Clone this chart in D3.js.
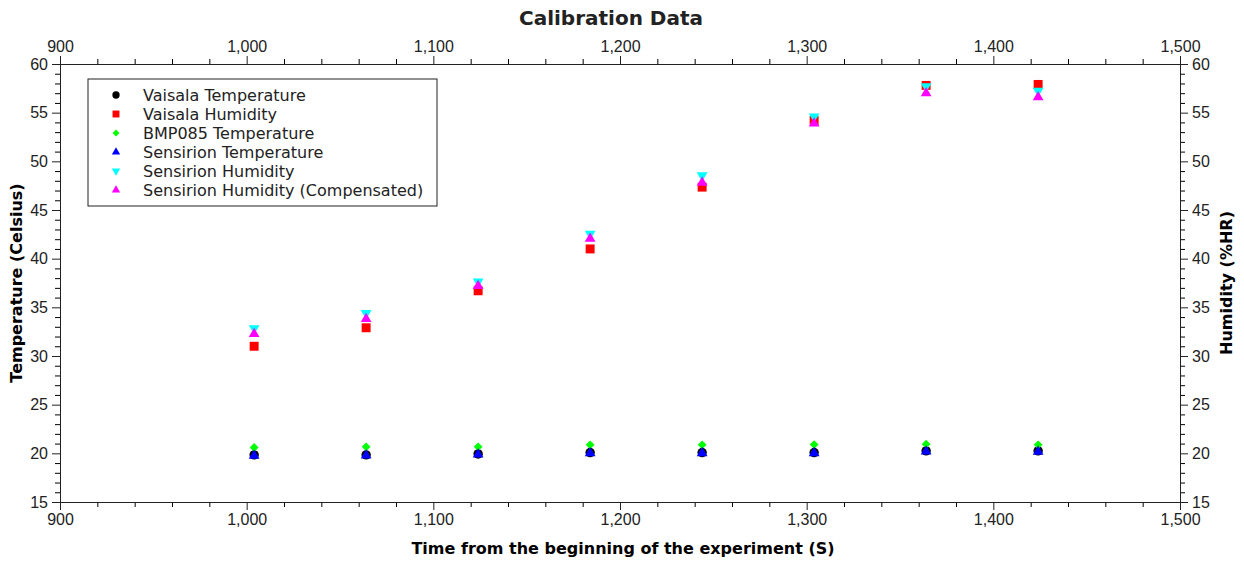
<!DOCTYPE html>
<meta charset="utf-8">
<script src="https://d3js.org/d3.v7.min.js"></script>
<title>Calibration Data</title>
<style>
    body { margin: 0; background: #fff; }
    svg { font-family: "DejaVu Sans", sans-serif; }
    .tick text { fill: #222; }
</style>
<div id="my_dataviz"></div>
<script>
    // data
    const times = [1004, 1064, 1124, 1184, 1244, 1304, 1364, 1424];
    const vaisalaTemp = [19.84, 19.84, 19.94, 20.08, 20.08, 20.08, 20.25, 20.25];
    const vaisalaHum = [31.0, 32.9, 36.7, 41.0, 47.35, 54.2, 57.8, 57.9];
    const bmpTemp = [20.6, 20.67, 20.67, 20.87, 20.87, 20.9, 20.94, 20.87];
    const sensTemp = [19.75, 19.78, 19.88, 20.02, 20.03, 20.03, 20.2, 20.18];
    const sensHum = [32.85, 34.4, 37.65, 42.55, 48.55, 54.6, 57.7, 57.25];
    const sensHumComp = [32.27, 33.8, 37.2, 42.05, 47.8, 53.9, 57.0, 56.6];

    const series = [
        {name: "Vaisala Temperature", values: vaisalaTemp, color: "#000000", shape: d3.symbolCircle, size: 70},
        {name: "Vaisala Humidity", values: vaisalaHum, color: "#ff0000", shape: d3.symbolSquare, size: 80},
        {name: "BMP085 Temperature", values: bmpTemp, color: "#00ff00", shape: d3.symbolDiamond2, size: 50},
        {name: "Sensirion Temperature", values: sensTemp, color: "#0000ff", shape: d3.symbolTriangle, size: 50},
        {name: "Sensirion Humidity", values: sensHum, color: "#00ffff", shape: d3.symbolTriangle, size: 50, flip: true},
        {name: "Sensirion Humidity (Compensated)", values: sensHumComp, color: "#ff00ff", shape: d3.symbolTriangle, size: 50}
    ];

    const margin = {top: 64, right: 64, bottom: 60, left: 60},
        width = 1244 - margin.left - margin.right,
        height = 562 - margin.top - margin.bottom;

    const svg = d3.select("#my_dataviz")
        .append("svg")
        .attr("width", 1244)
        .attr("height", 562)
        .append("g")
        .attr("transform", `translate(${margin.left},${margin.top})`);

    const x = d3.scaleLinear().domain([900, 1500]).range([0, width]);
    const y = d3.scaleLinear().domain([15, 60]).range([height, 0]);

    const fmt = d3.format(",");
    const majorX = d3.range(900, 1501, 100);
    const minorX = d3.range(900, 1501, 20).filter(v => v % 100 !== 0);
    const majorY = d3.range(15, 61, 5);
    const minorY = d3.range(15, 61, 1).filter(v => v % 5 !== 0);

    function styleAxis(g) {
        g.selectAll(".domain").attr("stroke", "#222");
        g.selectAll(".tick line").attr("stroke", "#222");
        g.selectAll(".tick text").style("font-size", "16px");
    }

    // minor ticks first, then major ticks on top
    svg.append("g").attr("transform", `translate(0,${height})`)
        .call(d3.axisBottom(x).tickValues(minorX).tickSize(5).tickFormat(""));
    svg.append("g").call(d3.axisTop(x).tickValues(minorX).tickSize(5).tickFormat(""));
    svg.append("g").call(d3.axisLeft(y).tickValues(minorY).tickSize(5).tickFormat(""));
    svg.append("g").attr("transform", `translate(${width},0)`)
        .call(d3.axisRight(y).tickValues(minorY).tickSize(5).tickFormat(""));

    svg.append("g").attr("transform", `translate(0,${height})`)
        .call(d3.axisBottom(x).tickValues(majorX).tickSize(8).tickPadding(4).tickFormat(fmt))
        .call(styleAxis);
    svg.append("g")
        .call(d3.axisTop(x).tickValues(majorX).tickSize(8).tickPadding(4).tickFormat(fmt))
        .call(styleAxis);
    svg.append("g")
        .call(d3.axisLeft(y).tickValues(majorY).tickSize(8).tickPadding(4))
        .call(styleAxis);
    svg.append("g").attr("transform", `translate(${width},0)`)
        .call(d3.axisRight(y).tickValues(majorY).tickSize(8).tickPadding(4))
        .call(styleAxis);
    svg.selectAll(".domain").attr("stroke", "#222");

    // title and axis labels
    svg.append("text")
        .attr("x", 551)
        .attr("y", -39)
        .attr("text-anchor", "middle")
        .style("font-size", "20px")
        .style("font-weight", "bold")
        .attr("fill", "#222")
        .text("Calibration Data");

    svg.append("text")
        .attr("x", 563)
        .attr("y", height + 52)
        .attr("text-anchor", "middle")
        .style("font-size", "16px")
        .style("font-weight", "bold")
        .text("Time from the beginning of the experiment (S)");

    svg.append("text")
        .attr("transform", "rotate(-90)")
        .attr("x", -height / 2)
        .attr("y", -38)
        .attr("text-anchor", "middle")
        .style("font-size", "16px")
        .style("font-weight", "bold")
        .text("Temperature (Celsius)");

    svg.append("text")
        .attr("transform", "rotate(-90)")
        .attr("x", -height / 2)
        .attr("y", width + 52)
        .attr("text-anchor", "middle")
        .style("font-size", "16px")
        .style("font-weight", "bold")
        .text("Humidity (%HR)");

    // points
    series.forEach(s => {
        const sym = d3.symbol().type(s.shape).size(s.size);
        svg.append("g")
            .selectAll("path")
            .data(s.values.map((v, i) => ({t: times[i], v: v})))
            .join("path")
            .attr("d", sym)
            .attr("fill", s.color)
            .attr("transform", d => `translate(${x(d.t)},${y(d.v)})` + (s.flip ? " rotate(180)" : ""));
    });

    // legend
    const legend = svg.append("g").attr("transform", "translate(28,15)");
    legend.append("rect")
        .attr("width", 349)
        .attr("height", 127)
        .attr("fill", "white")
        .attr("stroke", "#222")
        .attr("stroke-width", 1);

    series.forEach((s, i) => {
        const sym = d3.symbol().type(s.shape).size(s.size * 0.6);
        const ly = 16 + i * 19;
        legend.append("path")
            .attr("d", sym)
            .attr("fill", s.color)
            .attr("transform", `translate(28,${ly})` + (s.flip ? " rotate(180)" : ""));
        legend.append("text")
            .attr("x", 55)
            .attr("y", ly)
            .attr("dy", "0.35em")
            .style("font-size", "16px")
            .attr("fill", "#222")
            .text(s.name);
    });
</script>
